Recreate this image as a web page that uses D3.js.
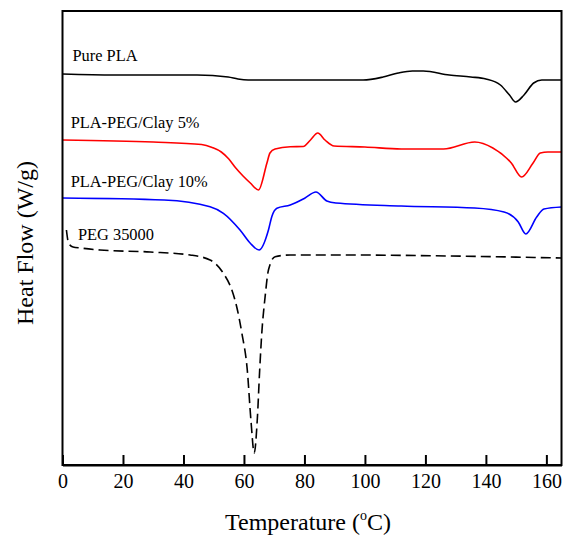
<!DOCTYPE html>
<html><head><meta charset="utf-8">
<script src="https://cdn.jsdelivr.net/npm/d3@7"></script>
<style>body{margin:0;background:#fff}</style>
</head><body><div id="chart"></div>
<script>
// Temperature (°C) and heat flow (arbitrary offset units, endo down)
const purePLA_T = [0,17,44.5,54.8,58,61.4,65,80,99.4,106,111,115.7,119.3,127.9,135,140,144.8,147.8,149.8,152.6,155.8,158.5,165];
const purePLA_H = [39.1,39.0,39.0,38.8,38.6,38.5,38.5,38.5,38.5,38.8,39.2,39.4,39.4,39.0,38.8,38.6,38.0,37.0,36.3,37.0,38.2,38.5,38.5];
const clay5_T = [0,30,46,49.5,52.5,55,57.3,59.7,62.1,64.8,67.6,68.6,70.3,75.3,79.6,82,84.4,86.8,89.8,100,112,126,136.3,142.3,148.4,151.8,155.6,158,160.5,165];
const clay5_H = [32.5,32.3,32.05,31.75,31.3,30.6,29.7,28.9,28.2,27.5,30.2,31.2,31.6,31.83,31.85,32.5,33.2,32.5,31.9,31.8,31.6,31.6,32.3,31.7,30.2,28.8,30.2,31.2,31.3,31.3];
const clay10_T = [0,33.6,48.8,53.2,58.7,62.1,65,68.1,69.2,70.9,75.3,80.2,83.8,87.4,90.4,112,136.3,146,150.7,153.2,156.8,159.2,165];
const clay10_H = [26.7,26.5,25.83,25.17,23.5,22.17,21.5,23.5,24.83,25.67,26.0,26.7,27.3,26.4,26.2,25.9,25.7,25.3,24.3,23.1,24.8,25.6,25.8];
const peg_T = [1.3,2.0,3.5,6,12.4,29,42.2,48.8,53.2,56,57.6,59.3,61.1,62.3,63.4,64.4,65.2,65.9,67,68.1,70.3,75.3,95,128,165];
const peg_H = [23.5,22.2,21.8,21.7,21.5,21.3,21.0,20.5,19.17,17.5,15.83,13.2,9.5,4.5,1.2,4.5,9.5,13.2,16.83,19.5,20.83,21.0,21.0,20.9,20.7];
const xTicks = [0,20,40,60,80,100,120,140,160];
const seriesNames = ["Pure PLA","PLA-PEG/Clay 5%","PLA-PEG/Clay 10%","PEG 35000"];
const labelT = [3.3, 2.7, 2.7, 5.1];
const labelH = [40.43, 33.67, 27.77, 22.5];

const W = 570, H = 540;
const m = {left: 62.5, right: 8.5, top: 11, bottom: 75};
const svg = d3.select("#chart").append("svg").attr("width", W).attr("height", H)
  .style("font-family", "'Liberation Serif','Times New Roman',serif");

const x = d3.scaleLinear().domain([0,165]).range([m.left, W - m.right]);
const y = d3.scaleLinear().domain([0,45.4]).range([H - m.bottom, m.top]);

const series = [
  {T: purePLA_T, Hf: purePLA_H, color: "#000", dash: null},
  {T: clay5_T, Hf: clay5_H, color: "#ff0000", dash: null},
  {T: clay10_T, Hf: clay10_H, color: "#0000ff", dash: null},
  {T: peg_T, Hf: peg_H, color: "#000", dash: "10,5"}
];
const line = d3.line().x(d => x(d[0])).y(d => y(d[1])).curve(d3.curveMonotoneX);
const g = svg.append("g");
series.forEach(s => {
  const pts = s.T.map((t,i) => [t, s.Hf[i]]);
  g.append("path").datum(pts).attr("d", line).attr("fill","none")
    .attr("stroke", s.color).attr("stroke-width", 1.6)
    .attr("stroke-dasharray", s.dash);
});

seriesNames.forEach((n,i) => {
  svg.append("text").attr("x", x(labelT[i])).attr("y", y(labelH[i]))
    .attr("font-size", 16.4).attr("fill","#000").text(n);
});

// frame
svg.append("rect").attr("x", m.left).attr("y", m.top)
  .attr("width", W - m.right - m.left).attr("height", H - m.bottom - m.top)
  .attr("fill","none").attr("stroke","#000").attr("stroke-width",2);

const ax = svg.append("g").attr("transform", `translate(0,${H - m.bottom})`)
  .call(d3.axisBottom(x).tickValues(xTicks).tickSizeInner(-10).tickSizeOuter(0).tickPadding(9).tickFormat(d3.format("d")));
ax.select(".domain").attr("stroke-width",2);
ax.selectAll(".tick line").attr("stroke-width",2);
ax.selectAll(".tick text").attr("font-size",20).attr("font-family","'Liberation Serif',serif").attr("fill","#000");

const xt = svg.append("text").attr("x", (m.left + W - m.right)/2 - 4).attr("y", 530)
  .attr("text-anchor","middle").attr("font-size",24);
xt.append("tspan").text("Temperature (");
xt.append("tspan").attr("font-size",14).attr("dy",-10).text("o");
xt.append("tspan").attr("dy",10).text("C)");

svg.append("text").attr("transform", "translate(33,243) rotate(-90)")
  .attr("text-anchor","middle").attr("font-size",24).text("Heat Flow (W/g)");
</script></body></html>
